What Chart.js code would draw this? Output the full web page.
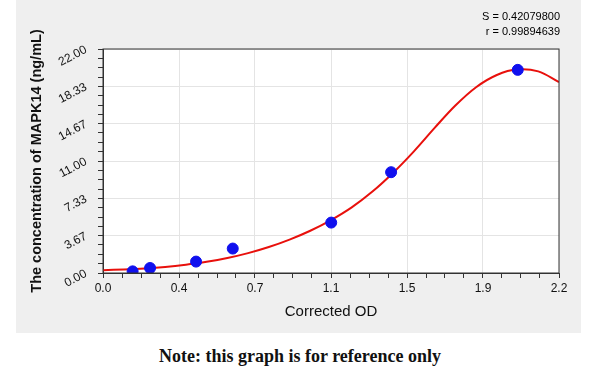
<!DOCTYPE html>
<html>
<head>
<meta charset="utf-8">
<script src="https://cdn.jsdelivr.net/npm/chart.js@4"></script>
<style>
  html, body { margin: 0; padding: 0; background: #ffffff; }
  body { width: 600px; height: 381px; position: relative; overflow: hidden; }
  #panel {
    position: absolute; left: 16px; top: 0; width: 565px; height: 333px;
    background: #efefef;
  }
  #note {
    position: absolute; left: 0; top: 346px; width: 600px; text-align: center;
    font-family: "Liberation Serif", serif; font-weight: bold; font-size: 18px; color: #111;
  }
</style>
</head>
<body>
<div id="panel"><canvas id="stdChart" width="565" height="333"></canvas></div>
<div id="note">Note: this graph is for reference only</div>

<script>
// ===============================
// DATA
// ===============================
// standard points (OD, concentration)
const stdOD   = [0.143, 0.227, 0.449, 0.626, 1.101, 1.390, 2.001];
const stdConc = [0.16, 0.49, 1.12, 2.40, 4.95, 9.90, 19.95];

// fitted curve
const fitOD   = [0, 0.1, 0.2, 0.3, 0.4, 0.5, 0.6, 0.7, 0.8, 0.9, 1.0, 1.1, 1.2, 1.3, 1.4, 1.5, 1.6, 1.7, 1.8, 1.9, 2.0, 2.1, 2.2];
const fitConc = [0.28, 0.35, 0.45, 0.60, 0.82, 1.10, 1.47, 1.95, 2.55, 3.28, 4.15, 5.20, 6.45, 8.00, 9.85, 11.95, 14.25, 16.45, 18.25, 19.45, 20.00, 19.80, 18.75];

// axis ticks
const xTickValues = [0, 0.3667, 0.7333, 1.1, 1.4667, 1.8333, 2.2];
const xTickLabels = ["0.0", "0.4", "0.7", "1.1", "1.5", "1.9", "2.2"];
const yTickValues = [0, 3.6667, 7.3333, 11, 14.6667, 18.3333, 22];
const yTickLabels = ["0.00", "3.67", "7.33", "11.00", "14.67", "18.33", "22.00"];

const fitStats = ["S = 0.42079800", "r = 0.99894639"];

// ===============================
// HELPERS
// ===============================
// major ticks plus 3 minor ticks between each pair
function withMinor(values) {
    let out = [];
    for (let i = 0; i < values.length; i++) {
        out.push({ value: values[i], major: true });
        if (i < values.length - 1) {
            const step = (values[i + 1] - values[i]) / 4;
            for (let k = 1; k < 4; k++) {
                out.push({ value: values[i] + step * k, major: false });
            }
        }
    }
    return out;
}

function labelFor(values, labels, v) {
    for (let i = 0; i < values.length; i++) {
        if (Math.abs(values[i] - v) < 1e-6) return labels[i];
    }
    return "";
}

const tickFont = { family: "'Liberation Sans', Arial, sans-serif", size: 12 };

// white plot area, frame and the S / r text
const framePlugin = {
    id: "frame",
    beforeDraw(chart) {
        const { ctx, chartArea: a } = chart;
        ctx.save();
        ctx.fillStyle = "#ffffff";
        ctx.fillRect(a.left, a.top, a.right - a.left, a.bottom - a.top);
        ctx.restore();
    },
    afterDraw(chart) {
        const { ctx, chartArea: a } = chart;
        ctx.save();
        ctx.strokeStyle = "#333333";
        ctx.lineWidth = 1;
        ctx.strokeRect(a.left, a.top, a.right - a.left, a.bottom - a.top);

        ctx.fillStyle = "#000000";
        ctx.font = "11px 'Liberation Sans', Arial, sans-serif";
        ctx.textAlign = "right";
        ctx.textBaseline = "middle";
        ctx.fillText(fitStats[0], 544, 17);
        ctx.fillText(fitStats[1], 544, 32);
        ctx.restore();
    }
};

// ===============================
// CHART
// ===============================
const ctx = document.getElementById("stdChart").getContext("2d");

new Chart(ctx, {
    type: "scatter",
    data: {
        datasets: [
            {
                type: "line",
                label: "fit",
                data: fitOD.map((x, i) => ({ x: x, y: fitConc[i] })),
                borderColor: "#e8100c",
                borderWidth: 2,
                pointRadius: 0,
                tension: 0.35,
                fill: false,
                order: 2
            },
            {
                label: "standards",
                data: stdOD.map((x, i) => ({ x: x, y: stdConc[i] })),
                backgroundColor: "#1010ee",
                borderColor: "#1010ee",
                pointRadius: 5.5,
                order: 1
            }
        ]
    },
    options: {
        responsive: false,
        animation: false,
        layout: { padding: { left: 0, right: 22, top: 49, bottom: 0 } },
        plugins: {
            legend: { display: false },
            tooltip: { enabled: false }
        },
        scales: {
            x: {
                type: "linear",
                min: 0,
                max: 2.2,
                afterBuildTicks: scale => { scale.ticks = withMinor(xTickValues); },
                afterFit: scale => { scale.height = 60; },
                ticks: {
                    autoSkip: false,
                    maxRotation: 0,
                    padding: 3,
                    color: "#111111",
                    font: tickFont,
                    callback: v => labelFor(xTickValues, xTickLabels, v)
                },
                grid: {
                    color: c => (c.tick && c.tick.major) ? "#e4e4e4" : "rgba(0,0,0,0)",
                    tickColor: "#333333",
                    tickLength: 5
                },
                border: { color: "#333333" },
                title: {
                    display: true,
                    text: "Corrected OD",
                    color: "#111111",
                    padding: { top: 3, bottom: 12 },
                    font: { family: "'Liberation Sans', Arial, sans-serif", size: 15 }
                }
            },
            y: {
                type: "linear",
                min: 0,
                max: 22,
                afterBuildTicks: scale => { scale.ticks = withMinor(yTickValues); },
                afterFit: scale => { scale.width = 87; },
                ticks: {
                    autoSkip: false,
                    minRotation: 28,
                    maxRotation: 28,
                    padding: 12,
                    color: "#111111",
                    font: tickFont,
                    callback: v => labelFor(yTickValues, yTickLabels, v)
                },
                grid: {
                    color: c => (c.tick && c.tick.major) ? "#e4e4e4" : "rgba(0,0,0,0)",
                    tickColor: "#333333",
                    tickLength: 5
                },
                border: { color: "#333333" },
                title: {
                    display: true,
                    text: "The concentration of MAPK14 (ng/mL)",
                    color: "#111111",
                    padding: { top: 12 },
                    font: { family: "'Liberation Sans', Arial, sans-serif", size: 14.5, weight: "bold" }
                }
            }
        }
    },
    plugins: [framePlugin]
});
</script>
</body>
</html>
